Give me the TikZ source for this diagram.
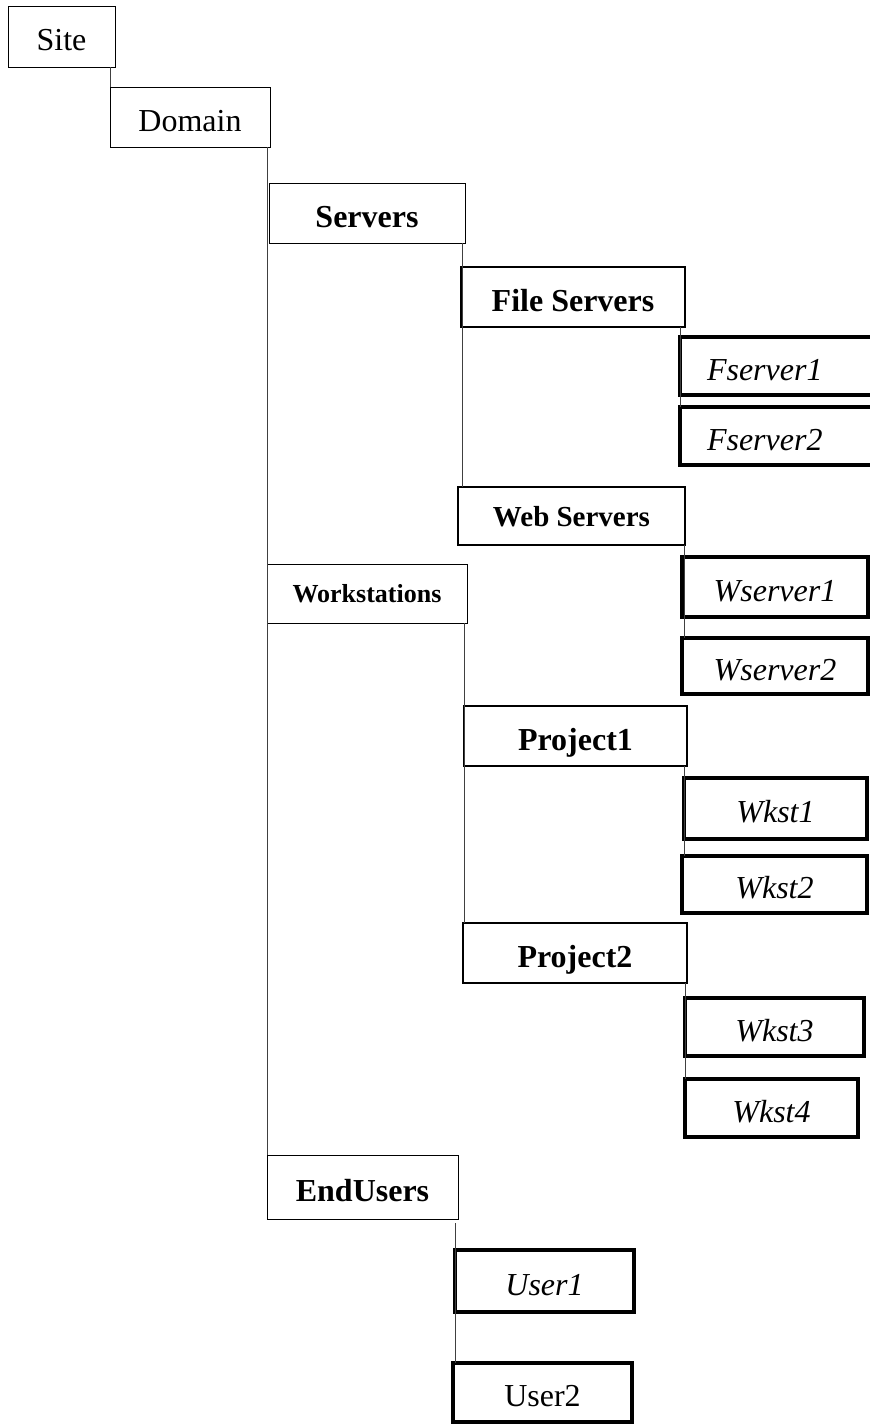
\documentclass[tikz,border=0pt]{standalone}
\usepackage{fontspec}
\setmainfont{Liberation Serif}
\usetikzlibrary{calc}
\begin{document}
\begin{tikzpicture}[x=0.75pt, y=-0.75pt,
  every node/.style={font=\fontsize{24pt}{28pt}\selectfont},
  box/.style={draw, anchor=north west, inner sep=0pt, outer sep=0pt, text height=21.6pt, text depth=0pt},
  thinbox/.style={box, line width=0.75pt},
  headbox/.style={thinbox, font=\fontsize{24pt}{28pt}\selectfont\bfseries},
  midbox/.style={box, line width=1.5pt, font=\fontsize{24pt}{28pt}\selectfont\bfseries},
  leafbox/.style={box, line width=2.6pt, font=\fontsize{24pt}{28pt}\selectfont\itshape},
  sz/.style 2 args={minimum width=#1*0.75pt, minimum height=#2*0.75pt},
  conn/.style={draw=black!75, line width=0.6pt}]
\useasboundingbox (0,0) rectangle (870,1424);

% top levels
\node[thinbox, sz={107}{61}] (site) at (8,6) {Site};
\node[thinbox, sz={160}{60}] (domain) at (110,87) {Domain};
\node[headbox, sz={196}{60}] (servers) at (269,183) {Servers};
\node[headbox, sz={200}{59}, font=\fontsize{19.5pt}{23pt}\selectfont\bfseries, text height=14pt] (wkstn) at (267,564) {Workstations};
\node[headbox, sz={191}{64}] (endusers) at (267,1155) {EndUsers};

% servers
\node[midbox, sz={224}{60}] (filesrv) at (461,267) {File Servers};
\node[leafbox, sz={214}{58}, inner xsep=20.25pt, text width=120pt, align=left] (fsrv1) at (680,337) {Fserver1};
\node[leafbox, sz={214}{58}, inner xsep=20.25pt, text width=120pt, align=left] (fsrv2) at (680,407) {Fserver2};
\node[midbox, sz={227}{58}, font=\fontsize{21.75pt}{26pt}\selectfont\bfseries, text height=15.7pt] (websrv) at (458,487) {Web Servers};
\node[leafbox, sz={186}{60}] (wsrv1) at (682,557) {Wserver1};
\node[leafbox, sz={186}{56}] (wsrv2) at (682,638) {Wserver2};

% workstations
\node[midbox, sz={223}{60}] (proj1) at (464,706) {Project1};
\node[leafbox, sz={183}{61}] (wkst1) at (684,778) {Wkst1};
\node[leafbox, sz={185}{57}] (wkst2) at (682,856) {Wkst2};
\node[midbox, sz={224}{60}] (proj2) at (463,923) {Project2};
\node[leafbox, sz={179}{58}] (wkst3) at (685,998) {Wkst3};
\node[leafbox, sz={173}{58}] (wkst4) at (685,1079) {Wkst4};

% end users
\node[leafbox, sz={179}{62}] (user1) at (455,1250) {User1};
\node[leafbox, sz={179}{59}, font=\fontsize{24pt}{28pt}\selectfont] (user2) at (453,1363) {User2};

% tree lines
\draw[conn] (site.south -| domain.west) -- (domain.north west);
\draw[conn] (domain.south -| endusers.west) -- (endusers.north west);
\draw[conn] ($(servers.south -| filesrv.west)+(1,0)$) -- ($(websrv.north -| filesrv.west)+(1,0)$);
\draw[conn] (filesrv.south -| fsrv1.west) -- (fsrv2.north west);
\draw[conn] ($(websrv.south -| wsrv1.west)+(2,0)$) -- ($(wsrv2.north -| wsrv1.west)+(2,0)$);
\draw[conn] (wkstn.south -| proj1.west) -- (proj2.north -| proj1.west);
\draw[conn] (proj1.south -| wkst1.west) -- (wkst2.north -| wkst1.west);
\draw[conn] (proj2.south -| wkst3.west) -- (wkst4.north west);
\draw[conn] ($(endusers.south -| user1.west)+(0,4)$) -- (user2.north -| user1.west);
\end{tikzpicture}
\end{document}
